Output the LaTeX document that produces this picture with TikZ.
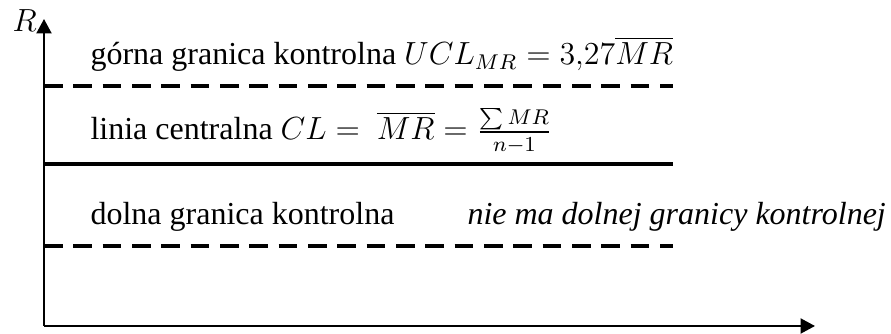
\documentclass[tikz,border=0pt]{standalone}
\usepackage{amsmath}
\usepackage{fontspec}
\setmainfont{Liberation Serif}[ItalicFont={Liberation Serif Italic}]
\usetikzlibrary{arrows.meta,positioning}

\begin{document}
\begin{tikzpicture}[x=0.375pt, y=-0.375pt,
  every node/.style={font=\fontsize{12}{14}\selectfont, inner sep=0pt, anchor=base west},
  axis/.style={line width=0.8pt, -{Triangle[length=5.4pt,width=5.6pt]}},
  limit/.style={line width=1.3pt, dash pattern=on 7pt off 4pt},
  centre/.style={line width=1.3pt}]

\useasboundingbox (0,0) rectangle (891,334);

% Axes
\coordinate (O) at (44,326);
\coordinate (Rtop) at (44,19);
\coordinate (Xend) at (815,326);
\draw[axis] (O) -- (Rtop);
\draw[axis] (O) -- (Xend);
\node (Rlab) at (12,32) {$R$};

% Control lines
\coordinate (ucl-l) at (44,86);  \coordinate (ucl-r) at (673,86);
\coordinate (cl-l)  at (44,164); \coordinate (cl-r)  at (673,164);
\coordinate (lcl-l) at (44,246); \coordinate (lcl-r) at (673,246);

\draw[limit] (ucl-l) -- (ucl-r);
\draw[centre] (cl-l) -- (cl-r);
\draw[limit] (lcl-l) -- (lcl-r);

% Labels
\node (ucl) at (90,65) {górna granica kontrolna $UCL_{MR} = 3{,}27\overline{MR}$};
\node (cl) at (90,140) {linia centralna $CL = \ \overline{MR} = \frac{\sum MR}{n-1}$};
\node (lcl) at (90,225) {dolna granica kontrolna};
\node[font=\fontsize{12}{14}\selectfont\itshape] (nolcl) at (467,225) {nie ma dolnej granicy kontrolnej};

\end{tikzpicture}
\end{document}
